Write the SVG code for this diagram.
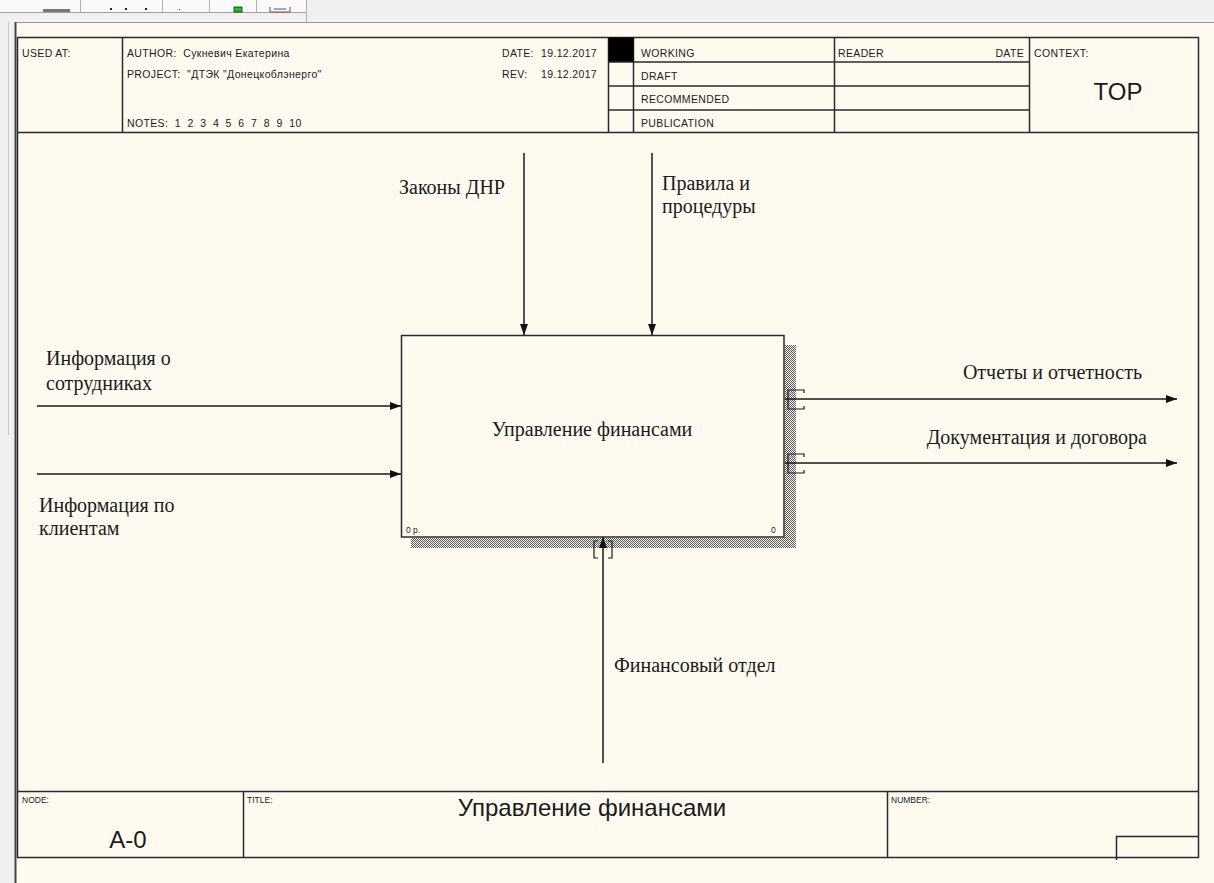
<svg xmlns="http://www.w3.org/2000/svg" width="1214" height="883" viewBox="0 0 1214 883">
<style>
.frm{fill:none;stroke:#2a2a2a;stroke-width:1.5}
.hd{font-family:"Liberation Sans",Arial,sans-serif;font-size:10.5px;letter-spacing:0.35px;fill:#1a1a1a;white-space:pre}
.ft{font-family:"Liberation Sans",Arial,sans-serif;font-size:8.5px;fill:#1a1a1a}
.big{font-family:"Liberation Sans",Arial,sans-serif;font-size:24px;fill:#1a1a1a}
.lbl{font-family:"Liberation Serif","Times New Roman",serif;font-size:20px;fill:#1a1a1a}
.arr{stroke:#1a1a1a;stroke-width:1.5;fill:none}
.brk{stroke:#1a1a1a;stroke-width:1.2;fill:none}
</style>
<defs>
<marker id="ah" markerWidth="12" markerHeight="10" refX="11" refY="5" orient="auto" markerUnits="userSpaceOnUse">
<path d="M0,1 L11,5 L0,9 Z" fill="#111"/>
</marker>
<pattern id="hatch" width="2" height="2" patternUnits="userSpaceOnUse">
<rect width="2" height="2" fill="#fffaf0"/>
<rect x="0" y="0" width="1" height="1" fill="#555"/>
<rect x="1" y="1" width="1" height="1" fill="#555"/>
</pattern>
</defs>
<!-- application chrome -->
<rect x="0" y="0" width="1214" height="883" fill="#f0f0f0"/>
<rect x="0" y="0" width="306" height="12" fill="#fafafa"/>
<line x1="0" y1="12.5" x2="306" y2="12.5" stroke="#a0a0a0" stroke-width="1"/>
<g stroke="#b0b0b0" stroke-width="1">
<line x1="80.5" y1="0" x2="80.5" y2="12"/>
<line x1="162.5" y1="0" x2="162.5" y2="12"/>
<line x1="209.5" y1="0" x2="209.5" y2="12"/>
<line x1="256.5" y1="0" x2="256.5" y2="12"/>
<line x1="306.5" y1="0" x2="306.5" y2="22"/>
</g>
<rect x="43" y="9" width="27" height="3" fill="#777"/>
<rect x="110" y="8" width="2" height="2" fill="#222"/>
<rect x="125" y="8" width="2" height="2" fill="#222"/>
<rect x="145" y="8" width="2" height="2" fill="#222"/>
<rect x="179" y="9" width="1" height="1" fill="#3344cc"/>
<rect x="234" y="7" width="8" height="5" fill="#11cc11" stroke="#222" stroke-width="0.8"/>
<path d="M270,7 V12 H290 V7" fill="none" stroke="#c03030" stroke-width="1"/>
<line x1="274" y1="9" x2="286" y2="9" stroke="#3050c0" stroke-width="1"/>
<rect x="15" y="22" width="1199" height="861" fill="#fffaf0"/>
<line x1="15" y1="22.5" x2="1214" y2="22.5" stroke="#999" stroke-width="1"/>
<line x1="15.5" y1="22" x2="15.5" y2="883" stroke="#444" stroke-width="2"/>
<line x1="8.5" y1="22" x2="8.5" y2="435" stroke="#c8c8c8" stroke-width="1"/>

<!-- frame -->
<g id="frame">
<rect x="17.5" y="37.5" width="1181" height="820" class="frm"/>
<line x1="17.5" y1="132.5" x2="1198.5" y2="132.5" class="frm"/>
<line x1="122.5" y1="37.5" x2="122.5" y2="132.5" class="frm"/>
<line x1="608.5" y1="37.5" x2="608.5" y2="132.5" class="frm"/>
<line x1="633.5" y1="37.5" x2="633.5" y2="132.5" class="frm"/>
<line x1="834.5" y1="37.5" x2="834.5" y2="132.5" class="frm"/>
<line x1="1029.5" y1="37.5" x2="1029.5" y2="132.5" class="frm"/>
<rect x="608.5" y="37.5" width="25" height="24.5" fill="#000"/>
<line x1="608.5" y1="62" x2="1029.5" y2="62" class="frm"/>
<line x1="608.5" y1="86" x2="1029.5" y2="86" class="frm"/>
<line x1="608.5" y1="110" x2="1029.5" y2="110" class="frm"/>
<text class="hd" x="22" y="57">USED AT:</text>
<text class="hd" x="127" y="57" xml:space="preserve">AUTHOR:  Сукневич Екатерина</text>
<text class="hd" x="127" y="78" xml:space="preserve">PROJECT:  "ДТЭК "Донецкоблэнерго"</text>
<text class="hd" x="127" y="127" xml:space="preserve">NOTES:  1  2  3  4  5  6  7  8  9  10</text>
<text class="hd" x="502" y="57">DATE:</text>
<text class="hd" x="541" y="57">19.12.2017</text>
<text class="hd" x="502" y="78">REV:</text>
<text class="hd" x="541" y="78">19.12.2017</text>
<text class="hd" x="641" y="57">WORKING</text>
<text class="hd" x="641" y="80">DRAFT</text>
<text class="hd" x="641" y="103">RECOMMENDED</text>
<text class="hd" x="641" y="127">PUBLICATION</text>
<text class="hd" x="838" y="57">READER</text>
<text class="hd" x="1024" y="57" text-anchor="end">DATE</text>
<text class="hd" x="1034" y="57">CONTEXT:</text>
<text class="big" x="1118" y="100" text-anchor="middle">TOP</text>

<line x1="17.5" y1="791.5" x2="1198.5" y2="791.5" class="frm"/>
<line x1="243.5" y1="791.5" x2="243.5" y2="857.5" class="frm"/>
<line x1="887.5" y1="791.5" x2="887.5" y2="857.5" class="frm"/>
<path d="M1116.5,860 V836.5 H1198.5" class="frm"/>
<text class="ft" x="22" y="803">NODE:</text>
<text class="ft" x="247" y="803">TITLE:</text>
<text class="ft" x="891" y="803">NUMBER:</text>
<text class="big" x="128" y="848" text-anchor="middle">A-0</text>
<text class="big" x="592" y="816" text-anchor="middle">Управление финансами</text>
</g>

<!-- activity node -->
<g id="node-A0">
<rect x="785" y="345" width="11" height="203" fill="url(#hatch)"/>
<rect x="411" y="538" width="385" height="10" fill="url(#hatch)"/>
<rect x="401.5" y="335.5" width="382.5" height="201.5" fill="#fffaf0" stroke="#2a2a2a" stroke-width="1.5"/>
<text class="lbl" x="592" y="436" text-anchor="middle">Управление финансами</text>
<text class="ft" x="406" y="533" font-size="9">0 р.</text>
<text class="ft" x="771" y="533" font-size="9">0</text>
</g>

<!-- connectors -->
<g id="connectors">
<line class="arr" x1="524" y1="153" x2="524" y2="335" marker-end="url(#ah)"/>
<line class="arr" x1="652" y1="153" x2="652" y2="335" marker-end="url(#ah)"/>
<line class="arr" x1="37" y1="406" x2="401" y2="406" marker-end="url(#ah)"/>
<line class="arr" x1="37" y1="474" x2="401" y2="474" marker-end="url(#ah)"/>
<line class="arr" x1="785" y1="399" x2="1177" y2="399" marker-end="url(#ah)"/>
<line class="arr" x1="785" y1="463" x2="1177" y2="463" marker-end="url(#ah)"/>
<line class="arr" x1="603" y1="763" x2="603" y2="537" marker-end="url(#ah)"/>
<path class="brk" d="M804,393 V390 H788 V409 H804 V406"/>
<path class="brk" d="M804,457 V454 H788 V473 H804 V470"/>
<path class="brk" d="M598,541 H594 V558 H598"/>
<path class="brk" d="M608,541 H612 V558 H608"/>
<text class="lbl" x="399" y="194">Законы ДНР</text>
<text class="lbl" x="662" y="190">Правила и</text>
<text class="lbl" x="662" y="213">процедуры</text>
<text class="lbl" x="46" y="365">Информация о</text>
<text class="lbl" x="46" y="390">сотрудниках</text>
<text class="lbl" x="39" y="512">Информация по</text>
<text class="lbl" x="39" y="535">клиентам</text>
<text class="lbl" x="1142" y="379" text-anchor="end">Отчеты и отчетность</text>
<text class="lbl" x="1147" y="444" text-anchor="end">Документация и договора</text>
<text class="lbl" x="614" y="672">Финансовый отдел</text>
</g>
</svg>
